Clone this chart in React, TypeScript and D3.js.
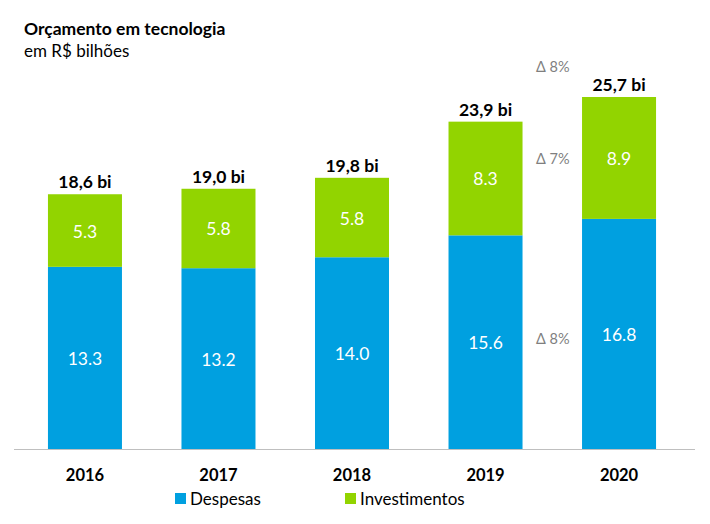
import React from "react";
import * as d3 from "d3";

const years = ["2016", "2017", "2018", "2019", "2020"];
const despesas = [13.3, 13.2, 14.0, 15.6, 16.8];
const investimentos = [5.3, 5.8, 5.8, 8.3, 8.9];
const totals = ["18,6 bi", "19,0 bi", "19,8 bi", "23,9 bi", "25,7 bi"];
const deltas = [
  { label: "Δ 8%", value: 27.9 },
  { label: "Δ 7%", value: 21.2 },
  { label: "Δ 8%", value: 8.0 },
];
const seriesNames = ["Despesas", "Investimentos"];

const BLUE = "#00A0E0";
const GREEN = "#92D400";
const FONT = "Lato, 'Open Sans', sans-serif";

export default function App() {
  const W = 710, H = 524;
  const baseY = 449;
  const y = d3.scaleLinear().domain([0, 25.7]).range([baseY, 97]);
  const x = d3.scaleBand<string>().domain(years).range([11.5, 692.5]).paddingInner(0.4457).paddingOuter(0.273);
  const bw = x.bandwidth();

  return (
    <svg width={W} height={H} style={{ position: "absolute", left: 0, top: 0 }} fontFamily={FONT}>
      <rect width={W} height={H} fill="#fff" />
      <text x={24} y={35} fontSize={17.5} fontWeight="bold" fill="#000">Orçamento em tecnologia</text>
      <text x={24} y={57} fontSize={17} fill="#000">em R$ bilhões</text>

      {years.map((yr, i) => {
        const d = despesas[i], inv = investimentos[i];
        const total = d + inv;
        const xl = x(yr) as number;
        const cx = xl + bw / 2;
        return (
          <g key={yr}>
            <rect x={xl} y={y(d)} width={bw} height={baseY - y(d)} fill={BLUE} />
            <rect x={xl} y={y(total)} width={bw} height={y(d) - y(total)} fill={GREEN} />
            <text x={cx} y={(y(d) + baseY) / 2 + 7} fontSize={17.5} fill="#fff" textAnchor="middle">{d.toFixed(1)}</text>
            <text x={cx} y={(y(total) + y(d)) / 2 + 7} fontSize={17.5} fill="#fff" textAnchor="middle">{inv.toFixed(1)}</text>
            <text x={cx} y={y(total) - 6} fontSize={17.5} fontWeight="bold" fill="#000" textAnchor="middle">{totals[i]}</text>
            <text x={cx} y={481} fontSize={16.5} fontWeight="bold" fill="#000" textAnchor="middle">{yr}</text>
          </g>
        );
      })}

      <line x1={14} x2={695} y1={baseY + 0.5} y2={baseY + 0.5} stroke="#BFBFBF" strokeWidth={1} />

      {deltas.map((dl, i) => (
        <text key={i} x={536} y={y(dl.value) + 5} fontSize={14.5} fill="#7F7F7F">{dl.label}</text>
      ))}

      {seriesNames.map((n, i) => {
        const lx = i === 0 ? 175 : 345;
        return (
          <g key={n}>
            <rect x={lx} y={493} width={11} height={11} fill={i === 0 ? BLUE : GREEN} />
            <text x={lx + 15} y={505} fontSize={17} fill="#000">{n}</text>
          </g>
        );
      })}
    </svg>
  );
}
